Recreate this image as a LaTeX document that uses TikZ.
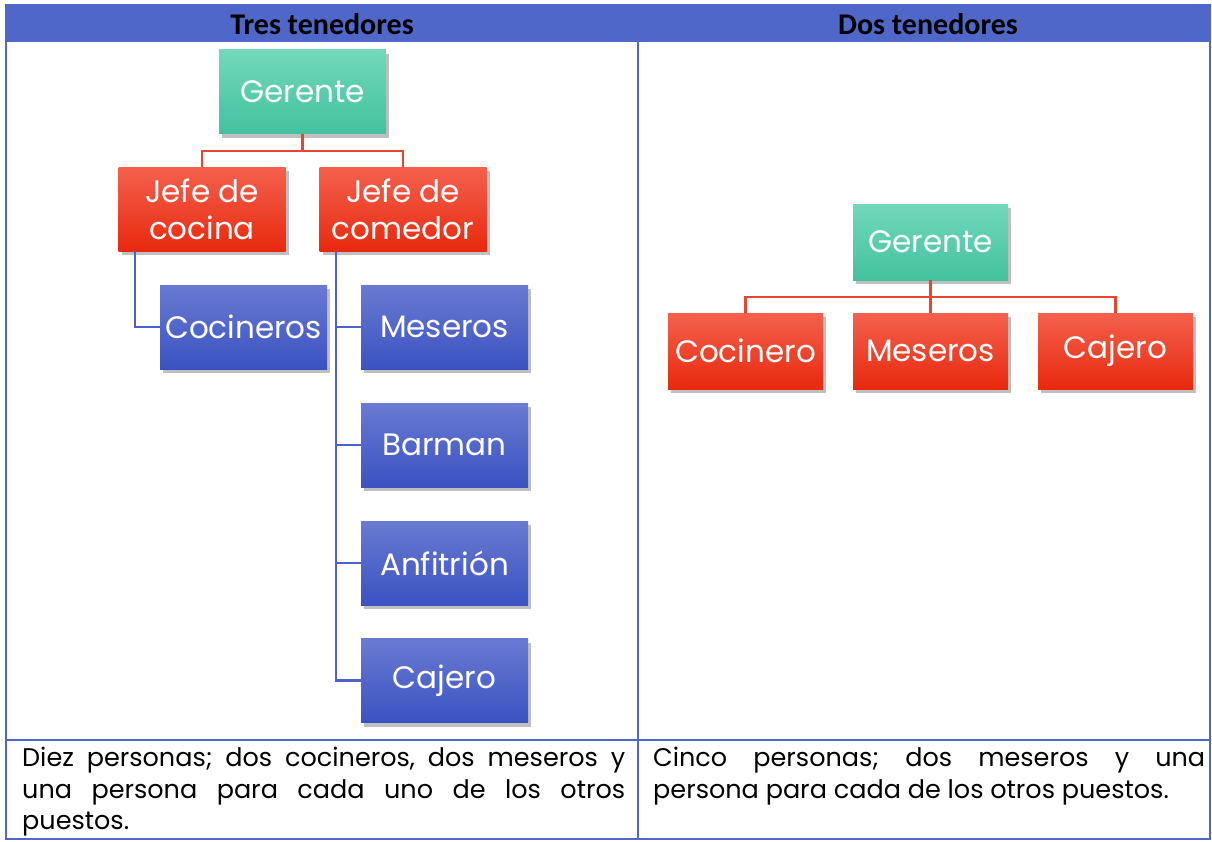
\documentclass[tikz,border=0pt]{standalone}
\usepackage{fontspec}
\setmainfont{Poppins}
\newfontfamily\hdfont{Carlito}
\usetikzlibrary{shadows}
\frenchspacing
\definecolor{tblue}{HTML}{4F67C8}
\definecolor{gtop}{HTML}{72D8BC}
\definecolor{gbot}{HTML}{43C29E}
\definecolor{rtop}{HTML}{F4614E}
\definecolor{rbot}{HTML}{E8290E}
\definecolor{btop}{HTML}{6A7AD2}
\definecolor{bbot}{HTML}{3A53C2}
\definecolor{rline}{HTML}{E8452E}
\definecolor{bline}{HTML}{4B62C8}
\tikzset{
  orgbox/.style={minimum width=167pt, minimum height=84pt, inner sep=0pt, text=white,
    font=\fontsize{31}{37}\selectfont, align=center,
    drop shadow={shadow xshift=3pt, shadow yshift=-4pt, opacity=0.25, fill=black}},
  smallbox/.style={orgbox, minimum width=155pt, minimum height=76pt},
  gbox/.style={top color=gtop, bottom color=gbot},
  rbox/.style={top color=rtop, bottom color=rbot},
  bbox/.style={top color=btop, bottom color=bbot},
  redcon/.style={draw=rline, line width=2.2pt},
  bluecon/.style={draw=bline, line width=2.2pt},
  grid/.style={draw=tblue, line width=2pt},
  hdtext/.style={font=\hdfont\bfseries\fontsize{30}{34}\selectfont, text=black},
  bodytext/.style={anchor=north west, inner sep=0pt, align=justify,
    font=\fontsize{25.5}{31.5}\selectfont\frenchspacing, text=black}
}
\begin{document}
\begin{tikzpicture}[x=1pt,y=-1pt]
\useasboundingbox (0,0) rectangle (1212,841);
% table
\fill[tblue] (5,4) rectangle (1211,42);
\draw[grid] (6,42) -- (6,839) -- (1210,839) -- (1210,42);
\draw[grid] (638,42) -- (638,839);
\draw[grid] (6,740) -- (1210,740);
\node[hdtext] (h1) at (322,24) {Tres tenedores};
\node[hdtext] (h2) at (928,24) {Dos tenedores};
% left chart
\node[orgbox,gbox] (g1) at (302.5,91.5) {Gerente};
\node[orgbox,rbox] (jc) at (202,209) {Jefe de\\cocina};
\node[orgbox,rbox] (jm) at (403,209) {Jefe de\\comedor};
\node[orgbox,bbox] (coc) at (243.5,327) {Cocineros};
\node[orgbox,bbox] (mes) at (444.5,327) {Meseros};
\node[orgbox,bbox] (bar) at (444.5,445) {Barman};
\node[orgbox,bbox] (anf) at (444.5,563) {Anfitrión};
\node[orgbox,bbox] (caj) at (444.5,680.5) {Cajero};
\draw[redcon] (g1.south) -- ++(0,17) -| (jc.north);
\draw[redcon] (g1.south) -- ++(0,17) -| (jm.north);
\coordinate (jcs) at ([xshift=17pt]jc.south west);
\coordinate (jms) at ([xshift=17pt]jm.south west);
\draw[bluecon] (jcs) |- (coc.west);
\draw[bluecon] (jms) |- (mes.west);
\draw[bluecon] (jms) |- (bar.west);
\draw[bluecon] (jms) |- (anf.west);
\draw[bluecon] (jms) |- (caj.west);
% right chart
\node[smallbox,gbox] (g2) at (930.5,242) {Gerente};
\node[smallbox,rbox] (cr) at (745.5,351) {Cocinero};
\node[smallbox,rbox] (mr) at (930.5,351) {Meseros};
\node[smallbox,rbox] (cjr) at (1115.5,351) {Cajero};
\draw[redcon] (g2.south) -- ++(0,17) -| (cr.north);
\draw[redcon] (g2.south) -- (mr.north);
\draw[redcon] (g2.south) -- ++(0,17) -| (cjr.north);
% bottom texts
\node[bodytext, text width=603pt] (t1) at (22,747)
  {Diez personas; dos cocineros, dos meseros y\linebreak una persona para cada uno de los otros\linebreak puestos.};
\node[bodytext, text width=552pt] (t2) at (653,747)
  {Cinco personas; dos meseros y una\linebreak persona para cada de los otros puestos.};
\end{tikzpicture}
\end{document}
